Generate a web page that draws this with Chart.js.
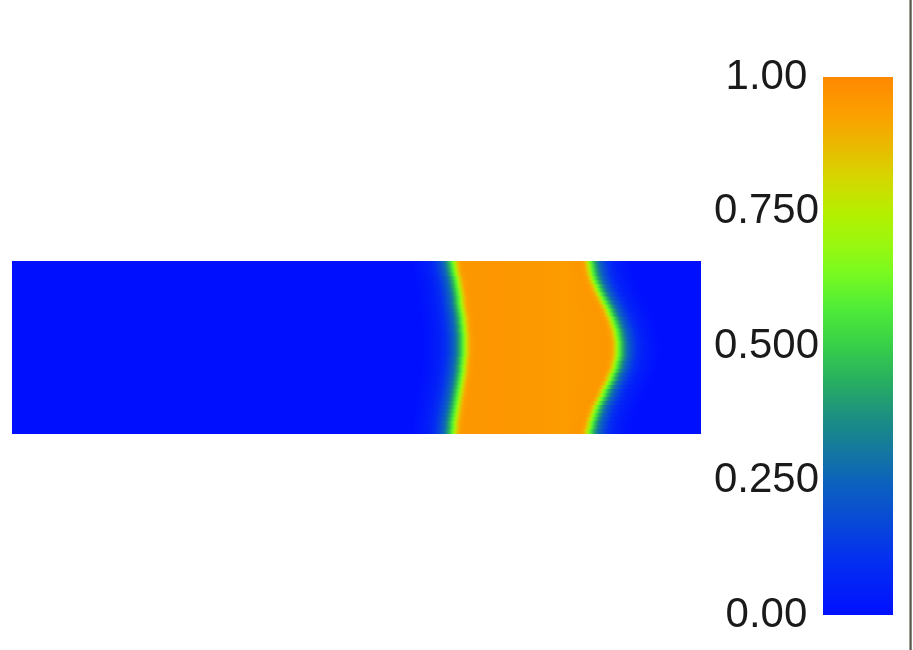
<!DOCTYPE html>
<html><head><meta charset="utf-8">
<script src="https://cdn.jsdelivr.net/npm/chart.js@4.4.1/dist/chart.umd.min.js"></script>
<style>
html,body{margin:0;padding:0;background:#fff;width:913px;height:650px;overflow:hidden}
#field{position:absolute;left:12px;top:261px;width:689px;height:173px}
#bar{position:absolute;left:700px;top:0;width:213px;height:650px}
#edge{position:absolute;left:909px;top:0;width:3px;height:650px;background:linear-gradient(to right,#c4c4bc,#55554d,#a4a49c)}
</style></head><body>
<div id="field"><canvas id="c1"></canvas></div>
<div id="bar"><canvas id="c2"></canvas></div>
<div id="edge"></div>
<script>
// ---- colour map (value -> colour) ----
const cmapValues = [0, 0.106, 0.17, 0.24, 0.305, 0.37, 0.437, 0.503, 0.57, 0.635, 0.686, 0.745, 0.81, 0.866, 0.93, 1.0];
const cmapColors = ['#0010ff','#0430f0','#0848d8','#0c60c0','#1478a0','#1c9080','#28b060','#38d048','#50ec38','#78fa20','#98f810','#b4f000','#d4d800','#e8bc00','#fba000','#ff8800'];

// ---- colour bar ticks ----
const tickValues = [0, 0.25, 0.5, 0.75, 1.0];
const tickLabels = ['0.00', '0.250', '0.500', '0.750', '1.00'];

// ---- field: rows across the channel (percent of height, top to bottom) ----
const rowY = ['1.2','3.5','5.8','8.1','10.4','12.7','15.0','17.3','19.7','22.0','24.3','26.6','28.9','31.2','33.5','35.8','38.2','40.5','42.8','45.1','47.4','49.7','52.0','54.3','56.6','59.0','61.3','63.6','65.9','68.2','70.5','72.8','75.1','77.5','79.8','82.1','84.4','86.7','89.0','91.3','93.6','95.9','98.2'];
// front positions along the channel (percent of length) for each row
const leftFront = [63.8,63.9,64.0,64.1,64.3,64.4,64.5,64.6,64.7,64.8,64.8,64.9,65.0,65.1,65.2,65.2,65.3,65.3,65.4,65.4,65.4,65.4,65.4,65.4,65.3,65.3,65.2,65.2,65.1,65.0,64.9,64.8,64.7,64.6,64.5,64.4,64.3,64.2,64.1,64.0,63.9,63.9,63.8];
const rightFront = [84.1,84.2,84.3,84.4,84.6,84.8,85.1,85.3,85.6,85.9,86.2,86.5,86.8,87.0,87.3,87.5,87.7,87.9,88.0,88.1,88.2,88.2,88.2,88.2,88.1,87.9,87.8,87.6,87.3,87.1,86.8,86.5,86.2,86.0,85.7,85.4,85.1,84.9,84.7,84.5,84.3,84.2,84.0];
// value across a front vs. distance from its centre (positive = towards the blue side)
const profOff = [-1.8,-1.2,-0.8,-0.4,0,0.4,0.8,1.2,1.8,2.5,3.4,4.6,5.8];
const profVal = [0.955,0.93,0.84,0.70,0.57,0.45,0.34,0.25,0.17,0.10,0.05,0.02,0];
// values inside the orange region
const interiorPos = [70, 75, 80];
const interiorVal = [0.958, 0.952, 0.942];
const outsideVal = 0;
const xMin = 0, xMax = 100;

function hexRgb(h){return [parseInt(h.slice(1,3),16),parseInt(h.slice(3,5),16),parseInt(h.slice(5,7),16)];}
const cmapRgb = cmapColors.map(hexRgb);
function cmap(v){
  v = Math.max(0, Math.min(1, v));
  for (let i = 1; i < cmapValues.length; i++) {
    if (v <= cmapValues[i]) {
      const t = (v - cmapValues[i-1]) / (cmapValues[i] - cmapValues[i-1]);
      const a = cmapRgb[i-1], b = cmapRgb[i];
      return 'rgb(' + a.map((c,k)=>Math.round(c + (b[k]-c)*t)).join(',') + ')';
    }
  }
  return cmapColors[cmapColors.length-1];
}

function rowGradient(c){
  const chart = c.chart;
  if (!chart.chartArea || c.dataIndex === undefined) return cmap(outsideVal);
  const i = c.dataIndex, xs = chart.scales.x;
  const x0 = xs.getPixelForValue(xMin), x1 = xs.getPixelForValue(xMax);
  const g = chart.ctx.createLinearGradient(x0, 0, x1, 0);
  const add = (u, v) => g.addColorStop(Math.min(1, Math.max(0, (u - xMin) / (xMax - xMin))), cmap(v));
  add(xMin, outsideVal);
  for (let k = profOff.length - 1; k >= 0; k--) add(leftFront[i] - profOff[k], profVal[k]);
  for (let k = 0; k < interiorPos.length; k++) add(interiorPos[k], interiorVal[k]);
  for (let k = 0; k < profOff.length; k++) add(rightFront[i] + profOff[k], profVal[k]);
  add(xMax, outsideVal);
  return g;
}

new Chart(document.getElementById('c1'), {
  type: 'bar',
  data: { labels: rowY, datasets: [{ data: rowY.map(() => [xMin, xMax]), backgroundColor: rowGradient, borderWidth: 0, barThickness: 5, borderSkipped: false }] },
  options: {
    indexAxis: 'y', responsive: true, maintainAspectRatio: false, animation: false, events: [],
    layout: { padding: 0 },
    plugins: { legend: { display: false }, tooltip: { enabled: false } },
    scales: {
      x: { type: 'linear', min: xMin, max: xMax, display: false },
      y: { type: 'category', display: false, offset: true }
    }
  }
});

function barGradient(c){
  const chart = c.chart;
  if (!chart.chartArea) return cmapColors[0];
  const ys = chart.scales.y;
  const g = chart.ctx.createLinearGradient(0, ys.getPixelForValue(0), 0, ys.getPixelForValue(1));
  cmapValues.forEach((v, k) => g.addColorStop(v, cmapColors[k]));
  return g;
}

new Chart(document.getElementById('c2'), {
  type: 'bar',
  data: { labels: ['value'], datasets: [{ data: [1], backgroundColor: barGradient, borderWidth: 0, barPercentage: 1, categoryPercentage: 1 }] },
  options: {
    responsive: true, maintainAspectRatio: false, animation: false, events: [],
    layout: { padding: { top: 77, bottom: 35, left: 0, right: 20 } },
    plugins: { legend: { display: false }, tooltip: { enabled: false } },
    scales: {
      x: { display: false },
      y: {
        min: 0, max: 1,
        afterBuildTicks: s => { s.ticks = tickValues.map(v => ({ value: v })); },
        afterFit: s => { s.width = 123; },
        grid: { display: false, drawTicks: false },
        border: { display: false },
        ticks: { padding: 4, crossAlign: 'center', autoSkip: false, color: '#1a1a1a',
          font: { family: 'Liberation Sans', size: 42 },
          callback: (v, i) => tickLabels[i] }
      }
    }
  }
});
</script>
</body></html>
